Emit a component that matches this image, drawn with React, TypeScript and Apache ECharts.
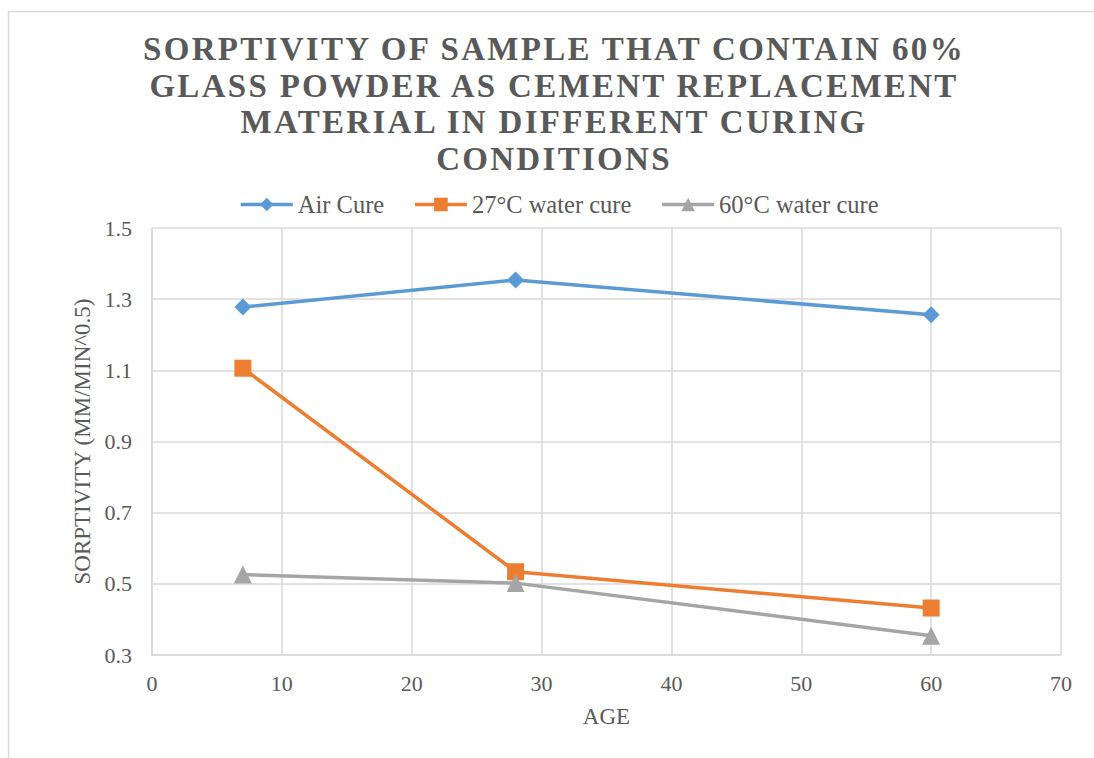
import React, { useEffect, useRef } from "react";
import * as echarts from "echarts";

const titleLines = [
  "SORPTIVITY OF SAMPLE THAT CONTAIN 60%",
  "GLASS POWDER AS CEMENT REPLACEMENT",
  "MATERIAL IN DIFFERENT CURING",
  "CONDITIONS",
];
const seriesNames = ["Air Cure", "27°C water cure", "60°C water cure"];
const ages = [7, 28, 60];
const airCure = [1.278, 1.354, 1.256];
const water27 = [1.106, 0.534, 0.432];
const water60 = [0.526, 0.502, 0.354];
const xAxisName = "AGE";
const yAxisName = "SORPTIVITY (MM/MIN^0.5)";

const FONT = "Liberation Serif";
const TEXT = "#595959";
const GRID = "#d9d9d9";
const COLORS = ["#5B9BD5", "#ED7D31", "#A5A5A5"];
const SYMBOLS = ["diamond", "rect", "triangle"];
const SYMBOL_SIZES = [17, 17, 18];

export default function App() {
  const ref = useRef<HTMLDivElement>(null);

  useEffect(() => {
    if (!ref.current) return;
    const chart = echarts.init(ref.current, null, { renderer: "svg" });
    const values = [airCure, water27, water60];
    const titleY = [48.5, 85.5, 122, 159];

    chart.setOption({
      animation: false,
      backgroundColor: "#ffffff",
      graphic: [
        {
          type: "rect",
          left: 6,
          top: 9,
          shape: { x: 0, y: 0, width: 1200, height: 900 },
          style: { fill: "none", stroke: GRID, lineWidth: 1.5 },
          silent: true,
          z: -10,
        },
        ...titleLines.map((line, i) => ({
          type: "text",
          x: 554,
          y: titleY[i],
          style: {
            text: line,
            fill: TEXT,
            fontFamily: FONT,
            fontSize: 33,
            fontWeight: "bold",
            textAlign: "center",
            textVerticalAlign: "middle",
          },
          silent: true,
        })),
      ],
      legend: {
        left: 234,
        top: 187,
        itemWidth: 52,
        itemHeight: 17,
        itemGap: 29,
        lineStyle: { width: 3.5 },
        textStyle: { fontFamily: FONT, fontSize: 24.5, color: TEXT },
        data: seriesNames,
      },
      grid: { left: 152, right: 33, top: 228, bottom: 103, containLabel: false },
      xAxis: {
        type: "value",
        min: 0,
        max: 70,
        interval: 10,
        name: xAxisName,
        nameLocation: "middle",
        nameGap: 50,
        nameTextStyle: { fontFamily: FONT, fontSize: 23, color: TEXT },
        axisLine: { show: true, lineStyle: { color: GRID, width: 1.5 } },
        axisTick: { show: false },
        axisLabel: { fontFamily: FONT, fontSize: 22, color: TEXT, margin: 17 },
        splitLine: { show: true, lineStyle: { color: GRID, width: 1.5 } },
      },
      yAxis: {
        type: "value",
        min: 0.3,
        max: 1.5,
        interval: 0.2,
        name: yAxisName,
        nameLocation: "middle",
        nameGap: 56,
        nameTextStyle: { fontFamily: FONT, fontSize: 23, color: TEXT },
        axisLine: { show: true, lineStyle: { color: GRID, width: 1.5 } },
        axisTick: { show: false },
        axisLabel: {
          fontFamily: FONT,
          fontSize: 22,
          color: TEXT,
          margin: 20,
          formatter: (v: number) => v.toFixed(1),
        },
        splitLine: { show: true, lineStyle: { color: GRID, width: 1.5 } },
      },
      series: seriesNames.map((name, i) => ({
        name,
        type: "line",
        data: ages.map((a, j) => [a, values[i][j]]),
        symbol: SYMBOLS[i],
        symbolSize: SYMBOL_SIZES[i],
        showAllSymbol: true,
        lineStyle: { color: COLORS[i], width: 3.5 },
        itemStyle: { color: COLORS[i], borderWidth: 0 },
        emphasis: { disabled: true },
      })),
    });

    const applySpacing = () => {
      const root = ref.current;
      if (!root) return;
      root.querySelectorAll("text").forEach((t) => {
        const s = (t.textContent || "").trim();
        if (titleLines.includes(s)) t.setAttribute("letter-spacing", "2.3");
      });
    };
    applySpacing();
    chart.on("finished", applySpacing);
    const timer = setTimeout(applySpacing, 50);

    return () => {
      clearTimeout(timer);
      chart.dispose();
    };
  }, []);

  return (
    <div
      ref={ref}
      style={{ position: "fixed", left: 0, top: 0, width: 1094, height: 758, background: "#fff" }}
    />
  );
}
